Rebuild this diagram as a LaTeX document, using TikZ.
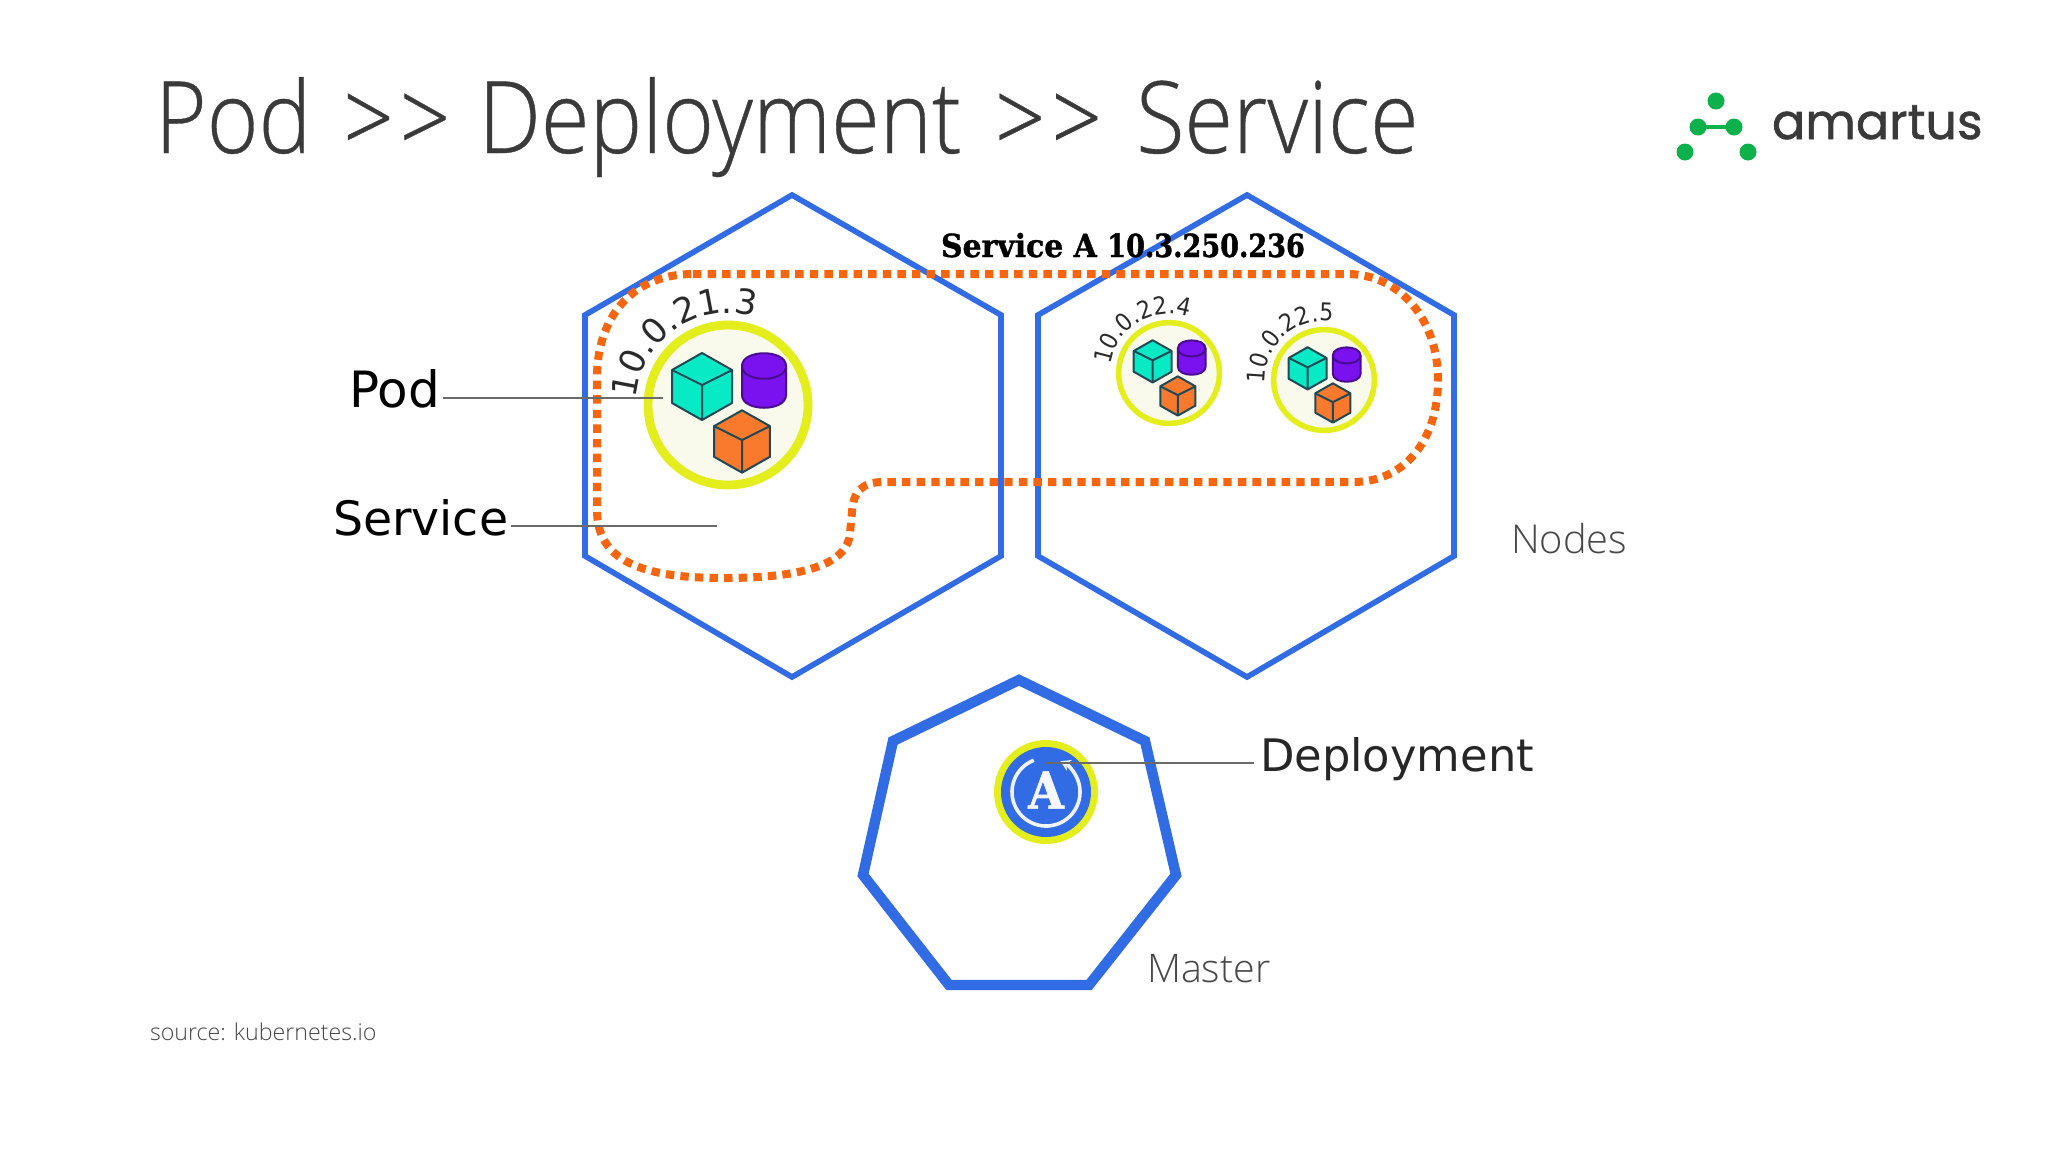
\documentclass[tikz,border=0pt]{standalone}
\usepackage{fontspec}
\usetikzlibrary{decorations.text,arrows.meta}
\setmainfont{Open Sans}
\newfontfamily\lightfont{Open Sans Light}
\newfontfamily\titlefont[FakeStretch=0.885,FakeBold=0.35]{Open Sans Light}
\newfontfamily\labelfont{DejaVu Sans}
\newfontfamily\narrowip[FakeStretch=0.9]{DejaVu Sans}
\newfontfamily\slabfont[FakeStretch=0.94,FakeBold=1.2]{DejaVu Serif}
\newfontfamily\slabdigits[FakeStretch=0.85,FakeBold=1.2]{DejaVu Serif}
\newfontfamily\iconfont[FakeStretch=0.9,FakeBold=1.2]{DejaVu Serif}
\newfontfamily\logofont[FakeBold=1.2]{Poppins}
\definecolor{kblue}{HTML}{326CE5}
\definecolor{korange}{HTML}{F7650F}
\definecolor{kyellow}{HTML}{E3EE1C}
\definecolor{kcream}{HTML}{F9FAEC}
\definecolor{kteal}{HTML}{08EAC6}
\definecolor{kbox}{HTML}{F97A2C}
\definecolor{kpurple}{HTML}{7A12F0}
\definecolor{kedge}{HTML}{1F4A55}
\definecolor{kgreen}{HTML}{0DB14B}
\definecolor{ktitle}{HTML}{3A3A3A}
\definecolor{kthin}{HTML}{484848}
\definecolor{kleader}{HTML}{6A6A6A}
\definecolor{kip}{HTML}{2A2A2A}
\tikzset{
  x=0.5pt,y=-0.5pt,
  hexa/.style={draw=kblue,line width=2.8pt,miter limit=10},
  hepta/.style={draw=kblue,line width=5.2pt,line join=miter},
  dashline/.style={draw=korange,line width=4pt,dash pattern=on 4.2pt off 3.1pt},
  leader/.style={draw=kleader,line width=0.8pt},
  txt/.style={inner sep=0pt,outer sep=0pt,anchor=base west},
  kube/.style={draw=kedge,line join=round},
}
\newcommand{\cubeshape}[3]{% x, y, fill
  \begin{scope}[shift={(#1,#2)}]
    \filldraw[kube,fill=#3] (0,-33) -- (30,-16) -- (30,17) -- (0,34) -- (-30,17) -- (-30,-16) -- cycle;
    \draw[kube] (-30,-16) -- (0,-1) -- (30,-16) (0,-1) -- (0,34);
  \end{scope}}
\newcommand{\podicon}[4]{% x,y,scale,line width
  \begin{scope}[shift={(#1,#2)},scale=#3,line width=#4]
    \filldraw[draw=kyellow,fill=kcream,line width=#3*4.4pt] (0,0) circle[radius=80];
    \cubeshape{-26}{-19}{kteal}
    \begin{scope}[shift={(14,36)},scale=0.93]\cubeshape{0}{0}{kbox}\end{scope}
    \filldraw[kube,fill=kpurple,draw=kpurple!60!black] (14,-39) -- (14,-10) .. controls (14,7) and (58,7) .. (58,-10) -- (58,-39) .. controls (58,-56) and (14,-56) .. (14,-39) -- cycle;
    \draw[kube,draw=kpurple!60!black] (14,-39) .. controls (14,-22) and (58,-22) .. (58,-39);
  \end{scope}}
\newcommand{\arclabel}[7]{% cx,cy,r,start,font,size,text
  \path[shift={(#1,#2)},decorate,decoration={text along path,text align={left},
     text={|#5\fontsize{#6}{#6}\selectfont\color{kip}|#7}}]
     (-#4:#3) arc[start angle=-#4,end angle=-#4+170,radius=#3];}
\begin{document}
\begin{tikzpicture}
\useasboundingbox (0,0) rectangle (2048,1152);
\fill[white] (0,0) rectangle (2048,1152);
% title and logo
\node[txt,text=ktitle,font=\titlefont\fontsize{50}{50}\selectfont] (title) at (155,153) {Pod\kern4.5pt{} >\kern3pt>\kern2.6pt{} Deployment\kern5.2pt{} >\kern3pt>\kern5.6pt{} Service};
\foreach \n/\px/\py in {la/1716/101,lb/1698/127,lc/1734/127,ld/1685/152,le/1748/152}
  \fill[kgreen] (\px,\py) circle[radius=8.5] coordinate (\n);
\draw[kgreen,line width=2pt] (lb) -- (lc);
\node[txt,text=ktitle,font=\logofont\fontsize{24.6}{25}\selectfont] (logo) at (1772,139) {amartus};
% hexagons
\draw[hexa] (792,195) -- (1001,315) -- (1001,556) -- (792,677) -- (585,556) -- (585,315) -- cycle;
\draw[hexa] (1247,195) -- (1454,315) -- (1454,556) -- (1247,677) -- (1038,556) -- (1038,315) -- cycle;
\draw[hepta] (1019,680) -- (1145,741) -- (1176,875) -- (1089,985) -- (949,985) -- (863,875) -- (893,741) -- cycle;
% service boundary
\draw[dashline] (693,274) -- (1347,274) .. controls (1400,274) and (1438,320) .. (1438,380)
  .. controls (1438,440) and (1405,482) .. (1353,482) -- (883,482)
  .. controls (862,482) and (853,492) .. (852,512) -- (850,533)
  .. controls (848,562) and (810,578) .. (723,578)
  .. controls (640,578) and (597,560) .. (597,510) -- (597,377)
  .. controls (597,320) and (630,274) .. (693,274) -- cycle;
\node[txt,text=black,font=\slabfont\bfseries\fontsize{15.9}{16}\selectfont] (svc) at (941,257) {Service A {\slabdigits\bfseries 10.3.250.236}};
% pods
\podicon{728}{405}{1}{1pt}
\podicon{1169}{373}{0.63}{1pt}
\podicon{1324}{380}{0.63}{1pt}
\arclabel{728}{405}{92}{176}{\labelfont}{17.3}{10.0.21.3}
\arclabel{1169}{373}{59}{172}{\narrowip}{12.2}{10.0.22.4}
\arclabel{1324}{380}{59}{183}{\narrowip}{12.2}{10.0.22.5}
% master icon
\fill[kyellow] (1046,792) circle[radius=52];
\fill[kblue] (1046,792) circle[radius=45];
\draw[white!92!kblue,line width=1.8pt,-{Stealth[length=5pt,width=6pt]}] (1046,792) ++(-111:34) arc[start angle=-111,end angle=-425,radius=34];
\node[inner sep=0pt,text=white!95!kblue,font=\iconfont\bfseries\fontsize{25.5}{26}\selectfont] (aicon) at (1046,790) {A};
% labels
\node[txt,font=\labelfont\fontsize{25}{25}\selectfont] (pod) at (349,407) {Pod};
\node[txt,font=\labelfont\fontsize{23.7}{24}\selectfont] (service) at (333,535) {Service};
\node[txt,font=\labelfont\fontsize{22.4}{24}\selectfont,text=black!85] (deploy) at (1260,771) {Deployment};
\coordinate (podend) at (663,398);
\coordinate (svcend) at (717,526);
\coordinate (depend) at (1045,763);
\draw[leader] (pod.base east |- podend) ++(3,0) -- (podend);
\draw[leader] (service.base east |- svcend) ++(3,0) -- (svcend);
\draw[leader] (depend) -- ([xshift=-3pt]deploy.base west |- depend);
\node[txt,text=kthin,font=\lightfont\fontsize{19.9}{20}\selectfont] (nodes) at (1511,553) {Nodes};
\node[txt,text=kthin,font=\lightfont\fontsize{19.7}{20}\selectfont] (master) at (1147,982) {Master};
\node[txt,text=kthin,font=\lightfont\fontsize{11.6}{14}\selectfont] (source) at (150,1040) {source: kubernetes.io};
\end{tikzpicture}
\end{document}
